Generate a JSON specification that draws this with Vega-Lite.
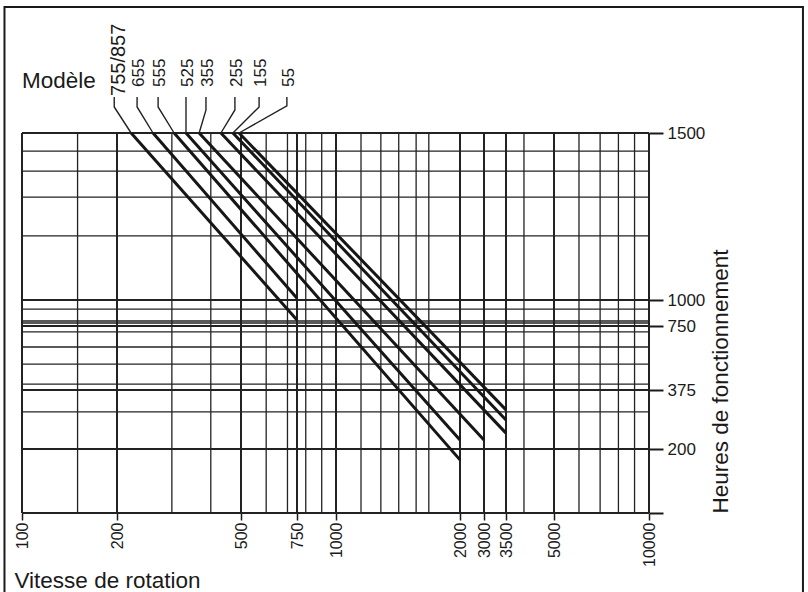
{
  "$schema": "https://vega.github.io/schema/vega-lite/v6.json",
  "width": 627,
  "height": 380,
  "autosize": {"type": "none"},
  "padding": {"left": 22, "top": 133, "right": 159, "bottom": 79},
  "background": "white",
  "config": {"view": {"stroke": null}},
  "datasets": {
    "vgrid": [
      {"rpm": 100, "major": true}, {"rpm": 150, "major": false}, {"rpm": 200, "major": true},
      {"rpm": 300, "major": false}, {"rpm": 400, "major": false}, {"rpm": 500, "major": true},
      {"rpm": 600, "major": false}, {"rpm": 700, "major": false}, {"rpm": 750, "major": true},
      {"rpm": 800, "major": false}, {"rpm": 900, "major": false}, {"rpm": 1000, "major": true},
      {"rpm": 1150, "major": false}, {"rpm": 1285, "major": false}, {"rpm": 1420, "major": false},
      {"rpm": 1565, "major": false}, {"rpm": 1680, "major": false}, {"rpm": 2000, "major": true},
      {"rpm": 3000, "major": true}, {"rpm": 3500, "major": true}, {"rpm": 4000, "major": false},
      {"rpm": 5000, "major": true}, {"rpm": 6000, "major": false}, {"rpm": 7000, "major": false},
      {"rpm": 8000, "major": false}, {"rpm": 9000, "major": false}, {"rpm": 10000, "major": true}
    ],
    "hgrid": [
      {"h": 100, "major": true}, {"h": 200, "major": true}, {"h": 310, "major": false},
      {"h": 375, "major": true}, {"h": 410, "major": false}, {"h": 527, "major": false},
      {"h": 627, "major": false}, {"h": 715, "major": false}, {"h": 750, "major": true},
      {"h": 779, "major": false}, {"h": 798, "major": false}, {"h": 913, "major": false},
      {"h": 1000, "major": true}, {"h": 1192, "major": false}, {"h": 1308, "major": false},
      {"h": 1386, "major": false}, {"h": 1446, "major": false}, {"h": 1500, "major": true}
    ],
    "curves": [
      {"model": "755/857", "rpm": 222, "h": 1500}, {"model": "755/857", "rpm": 750, "h": 808},
      {"model": "655", "rpm": 261, "h": 1500}, {"model": "655", "rpm": 750, "h": 1005},
      {"model": "555", "rpm": 305, "h": 1500}, {"model": "555", "rpm": 2000, "h": 183},
      {"model": "525", "rpm": 333, "h": 1500}, {"model": "525", "rpm": 2000, "h": 227},
      {"model": "355", "rpm": 367, "h": 1500}, {"model": "355", "rpm": 3000, "h": 227},
      {"model": "255", "rpm": 431, "h": 1500}, {"model": "255", "rpm": 3500, "h": 247},
      {"model": "155", "rpm": 471, "h": 1500}, {"model": "155", "rpm": 3500, "h": 286},
      {"model": "55", "rpm": 493, "h": 1500}, {"model": "55", "rpm": 3500, "h": 316}
    ],
    "leaders": [
      {"model": "755/857", "rpm": 196, "h": 1608, "pt": 0}, {"model": "755/857", "rpm": 196, "h": 1578, "pt": 1}, {"model": "755/857", "rpm": 222, "h": 1500, "pt": 2},
      {"model": "655", "rpm": 232, "h": 1608, "pt": 0}, {"model": "655", "rpm": 232, "h": 1578, "pt": 1}, {"model": "655", "rpm": 261, "h": 1500, "pt": 2},
      {"model": "555", "rpm": 271, "h": 1608, "pt": 0}, {"model": "555", "rpm": 271, "h": 1578, "pt": 1}, {"model": "555", "rpm": 305, "h": 1500, "pt": 2},
      {"model": "525", "rpm": 333, "h": 1608, "pt": 0}, {"model": "525", "rpm": 333, "h": 1578, "pt": 1}, {"model": "525", "rpm": 333, "h": 1500, "pt": 2},
      {"model": "355", "rpm": 386, "h": 1608, "pt": 0}, {"model": "355", "rpm": 386, "h": 1569, "pt": 1}, {"model": "355", "rpm": 367, "h": 1500, "pt": 2},
      {"model": "255", "rpm": 478, "h": 1608, "pt": 0}, {"model": "255", "rpm": 478, "h": 1569, "pt": 1}, {"model": "255", "rpm": 431, "h": 1500, "pt": 2},
      {"model": "155", "rpm": 570, "h": 1608, "pt": 0}, {"model": "155", "rpm": 570, "h": 1578, "pt": 1}, {"model": "155", "rpm": 471, "h": 1500, "pt": 2},
      {"model": "55", "rpm": 697, "h": 1608, "pt": 0}, {"model": "55", "rpm": 697, "h": 1581, "pt": 1}, {"model": "55", "rpm": 493, "h": 1500, "pt": 2}
    ],
    "labels": [
      {"model": "755/857", "rpm": 196}, {"model": "655", "rpm": 232}, {"model": "555", "rpm": 271},
      {"model": "525", "rpm": 333}, {"model": "355", "rpm": 386}, {"model": "255", "rpm": 478},
      {"model": "155", "rpm": 570}, {"model": "55", "rpm": 697}
    ]
  },
  "layer": [
    {
      "data": {"name": "vgrid"},
      "mark": {"type": "rule", "color": "#222222"},
      "encoding": {
        "x": {
          "field": "rpm", "type": "quantitative",
          "scale": {"type": "log", "domain": [100, 200, 500, 750, 1000, 2000, 3000, 3500, 5000, 10000], "range": [0, 95, 219, 275, 314, 438, 462, 484, 532, 627], "nice": false, "zero": false},
          "axis": {
            "orient": "bottom", "values": [100, 200, 500, 750, 1000, 2000, 3000, 3500, 5000, 10000],
            "format": "d", "labelAngle": 270, "labelFont": "Liberation Sans", "labelFontSize": 16, "labelColor": "#1a1a1a",
            "labelPadding": 2, "labelFlush": false, "labelOverlap": false,
            "tickSize": 7, "tickWidth": 1.5, "tickColor": "#1a1a1a", "domain": false, "grid": false,
            "title": "Vitesse de rotation", "titleFont": "Liberation Sans",
            "titleFontSize": 22.5, "titleFontWeight": "normal", "titleColor": "#1a1a1a",
            "titleAnchor": "start", "titleAlign": "left", "titleBaseline": "alphabetic", "titleX": -8, "titleY": 74
          }
        },
        "y": {
          "datum": 100, "type": "quantitative",
          "scale": {"type": "linear", "domain": [100, 200, 375, 750, 1000, 1500], "range": [380, 316, 257, 193, 167, 0], "nice": false, "zero": false},
          "axis": {
            "orient": "right", "values": [100, 200, 375, 750, 1000, 1500], "format": "d",
            "labelExpr": "datum.value == 100 ? '' : datum.label",
            "labelFont": "Liberation Sans", "labelFontSize": 17, "labelColor": "#1a1a1a", "labelPadding": 4,
            "labelFlush": false, "labelOverlap": false, "labelBaseline": "middle",
            "tickSize": 14, "tickWidth": 2, "tickColor": "#1a1a1a", "domain": false, "grid": false,
            "title": "Heures de fonctionnement", "titleFont": "Liberation Sans",
            "titleFontSize": 22.5, "titleFontWeight": "normal", "titleColor": "#1a1a1a",
            "titleAngle": 270, "titleAlign": "left", "titleBaseline": "alphabetic", "titleX": 78, "titleY": 380
          }
        },
        "y2": {"datum": 1500},
        "strokeWidth": {"condition": {"test": "datum.major", "value": 2}, "value": 1.3}
      }
    },
    {
      "data": {"name": "hgrid"},
      "mark": {"type": "rule", "color": "#222222"},
      "encoding": {
        "y": {"field": "h", "type": "quantitative"},
        "x": {"datum": 100, "type": "quantitative"},
        "x2": {"datum": 10000},
        "strokeWidth": {"condition": {"test": "datum.major", "value": 2}, "value": 1.3}
      }
    },
    {
      "data": {"name": "curves"},
      "mark": {"type": "line", "color": "#161616", "strokeWidth": 3, "strokeCap": "butt", "clip": false},
      "encoding": {
        "x": {"field": "rpm", "type": "quantitative"},
        "y": {"field": "h", "type": "quantitative"},
        "detail": {"field": "model"}
      }
    },
    {
      "data": {"name": "leaders"},
      "mark": {"type": "line", "color": "#222222", "strokeWidth": 1.4, "clip": false},
      "encoding": {
        "x": {"field": "rpm", "type": "quantitative"},
        "y": {"field": "h", "type": "quantitative"},
        "detail": {"field": "model"},
        "order": {"field": "pt", "type": "quantitative"}
      }
    },
    {
      "data": {"name": "labels"},
      "transform": [{"filter": "datum.model == '755/857'"}],
      "mark": {"type": "text", "angle": 270, "align": "left", "baseline": "middle", "font": "Liberation Sans", "fontSize": 20, "color": "#1a1a1a", "dx": 1, "dy": 5, "clip": false},
      "encoding": {
        "x": {"field": "rpm", "type": "quantitative"},
        "y": {"datum": 1608, "type": "quantitative"},
        "text": {"field": "model"}
      }
    },
    {
      "data": {"name": "labels"},
      "transform": [{"filter": "datum.model != '755/857'"}],
      "mark": {"type": "text", "angle": 270, "align": "left", "baseline": "middle", "font": "Liberation Sans", "fontSize": 17, "color": "#1a1a1a", "dx": 10, "dy": 2, "clip": false},
      "encoding": {
        "x": {"field": "rpm", "type": "quantitative"},
        "y": {"datum": 1608, "type": "quantitative"},
        "text": {"field": "model"}
      }
    },
    {
      "data": {"values": [{"label": "Modèle"}]},
      "mark": {"type": "text", "align": "left", "baseline": "alphabetic", "font": "Liberation Sans", "fontSize": 22.5, "color": "#1a1a1a", "clip": false},
      "encoding": {
        "x": {"datum": 100, "type": "quantitative"},
        "y": {"datum": 1635, "type": "quantitative"},
        "text": {"field": "label"}
      }
    },
    {
      "data": {"values": [{"frame": "border"}]},
      "mark": {"type": "rect", "fill": null, "filled": false, "stroke": "#1a1a1a", "strokeWidth": 2, "clip": false},
      "encoding": {
        "x": {"datum": 88, "type": "quantitative"},
        "x2": {"datum": 30750},
        "y": {"datum": 1877, "type": "quantitative"},
        "y2": {"datum": -36}
      }
    }
  ]
}
